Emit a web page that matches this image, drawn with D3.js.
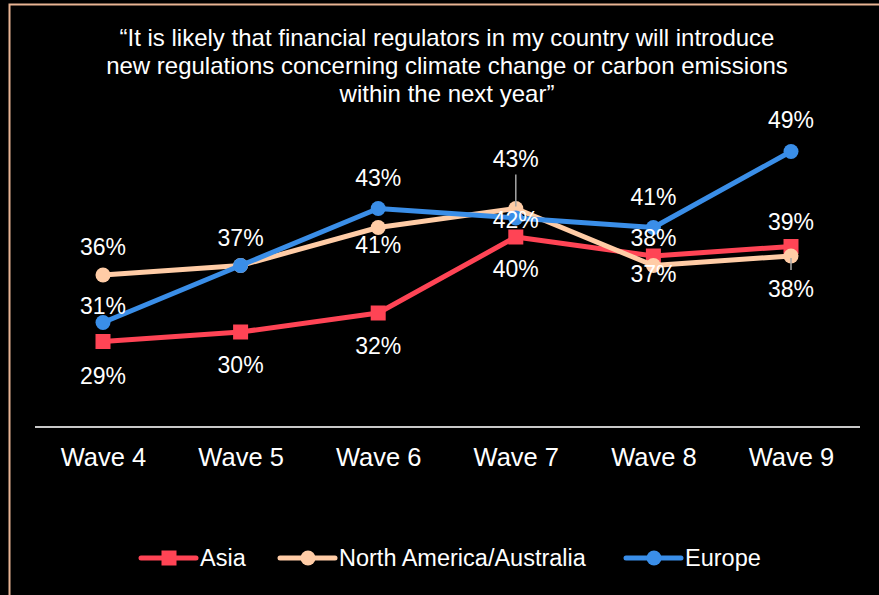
<!DOCTYPE html>
<html>
<head>
<meta charset="utf-8">
<script src="https://cdn.jsdelivr.net/npm/d3@7/dist/d3.min.js"></script>
<style>
  html, body { margin: 0; padding: 0; background: #000; }
  svg { display: block; font-family: "Liberation Sans", Arial, sans-serif; }
</style>
</head>
<body>
<svg id="chart" width="879" height="595"></svg>
<script>
// Survey waves and share of respondents agreeing (%) per region
const waves = ["Wave 4", "Wave 5", "Wave 6", "Wave 7", "Wave 8", "Wave 9"];
const asia = [29, 30, 32, 40, 38, 39];
const northAmericaAustralia = [36, 37, 41, 43, 37, 38];
const europe = [31, 37, 43, 42, 41, 49];
const seriesNames = ["Asia", "North America/Australia", "Europe"];
const titleLines = [
  "\u201cIt is likely that financial regulators in my country will introduce",
  "new regulations concerning climate change or carbon emissions",
  "within the next year\u201d"
];

// Presentation: colours, markers and label placement (vertical offset from the point;
// null means the label is not shown because another identical label covers it)
const series = [
  { name: seriesNames[0], values: asia, color: "#ff4455", marker: "square",
    labelDy: [34, 33, 33, 32, -18, -25], leader: [null, null, null, null, null, null] },
  { name: seriesNames[1], values: northAmericaAustralia, color: "#ffcca6", marker: "circle",
    labelDy: [-28, null, 17, -50, 8, 33], leader: [null, null, null, [-34, -2], null, [2, 14]] },
  { name: seriesNames[2], values: europe, color: "#3a8ee8", marker: "circle",
    labelDy: [-17, -28, -31, 2, -31, -32], leader: [null, null, null, null, null, null] }
];

const svg = d3.select("#chart");

// Frame
svg.append("rect")
  .attr("x", 9.5).attr("y", 4.5)
  .attr("width", 1000).attr("height", 1000)
  .attr("fill", "none")
  .attr("stroke", "#e8b493")
  .attr("stroke-width", 2);

// Title
svg.append("g").selectAll("text")
  .data(titleLines)
  .join("text")
  .attr("x", 447)
  .attr("y", (d, i) => 46 + i * 28)
  .attr("text-anchor", "middle")
  .attr("fill", "#ffffff")
  .attr("font-size", 24)
  .text(d => d);

const x = d3.scalePoint().domain(waves).range([103, 791]);
const y = d3.scaleLinear().domain([20, 50]).range([427, 142]);

// Category axis (baseline at the domain minimum)
const xAxis = d3.axisBottom(x).tickSize(0).tickPadding(21);
const axisG = svg.append("g")
  .attr("transform", `translate(0,${y(20)})`)
  .call(xAxis);
axisG.select(".domain").remove();
axisG.append("line")
  .attr("x1", 35).attr("x2", 860)
  .attr("stroke", "#c8c8c8").attr("stroke-width", 2);
axisG.selectAll(".tick text")
  .attr("fill", "#ffffff")
  .attr("font-size", 25.5)
  .attr("font-family", "\"Liberation Sans\", Arial, sans-serif");

const line = d3.line()
  .x((d, i) => x(waves[i]))
  .y(d => y(d));

function drawMarker(g, type, color, cx, cy) {
  if (type === "square") {
    g.append("rect")
      .attr("x", cx - 7.5).attr("y", cy - 7.5)
      .attr("width", 15).attr("height", 15)
      .attr("fill", color);
  } else {
    g.append("circle")
      .attr("cx", cx).attr("cy", cy).attr("r", 7.5)
      .attr("fill", color);
  }
}

// Lines and markers
series.forEach(s => {
  const g = svg.append("g");
  g.append("path")
    .datum(s.values)
    .attr("d", line)
    .attr("fill", "none")
    .attr("stroke", s.color)
    .attr("stroke-width", 5)
    .attr("stroke-linejoin", "round");
  s.values.forEach((v, i) => drawMarker(g, s.marker, s.color, x(waves[i]), y(v)));
});

// Value labels with leader lines where a label sits away from its point
series.forEach(s => {
  const g = svg.append("g");
  s.values.forEach((v, i) => {
    if (s.labelDy[i] === null) return;
    const cx = x(waves[i]), cy = y(v);
    const ld = s.leader[i];
    if (ld) {
      g.append("line")
        .attr("x1", cx).attr("x2", cx)
        .attr("y1", cy + ld[0]).attr("y2", cy + ld[1])
        .attr("stroke", "#a6a6a6").attr("stroke-width", 1.5);
    }
    g.append("text")
      .attr("x", cx)
      .attr("y", cy + s.labelDy[i])
      .attr("dy", "0.35em")
      .attr("text-anchor", "middle")
      .attr("fill", "#ffffff")
      .attr("font-size", 23)
      .text(v + "%");
  });
});

// Legend
const legendItems = [
  { s: series[0], x0: 141 },
  { s: series[1], x0: 280 },
  { s: series[2], x0: 626 }
];
const ly = 558;
legendItems.forEach(item => {
  const g = svg.append("g");
  g.append("line")
    .attr("x1", item.x0).attr("x2", item.x0 + 55)
    .attr("y1", ly).attr("y2", ly)
    .attr("stroke", item.s.color).attr("stroke-width", 5)
    .attr("stroke-linecap", "round");
  drawMarker(g, item.s.marker, item.s.color, item.x0 + 28, ly);
  g.append("text")
    .attr("x", item.x0 + 59)
    .attr("y", ly)
    .attr("dy", "0.35em")
    .attr("fill", "#ffffff")
    .attr("font-size", 23.5)
    .text(item.s.name);
});
</script>
</body>
</html>
